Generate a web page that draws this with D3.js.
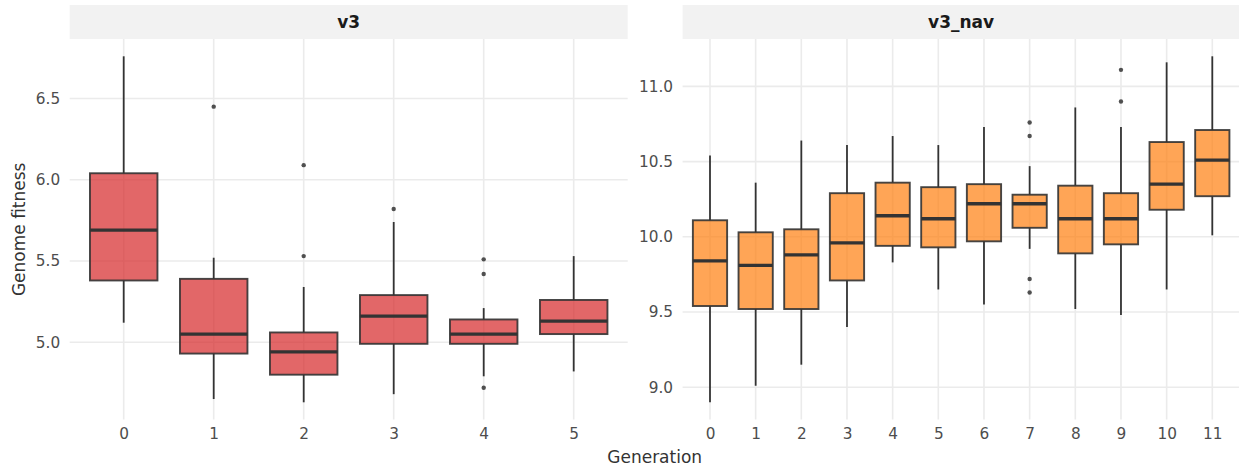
<!DOCTYPE html>
<html>
<head>
<meta charset="utf-8">
<script src="https://cdn.jsdelivr.net/npm/d3@7"></script>
<style>
  html, body { margin: 0; padding: 0; background: #ffffff; }
  svg { display: block; font-family: "DejaVu Sans", sans-serif; }
</style>
</head>
<body>
<svg id="chart" width="1239" height="470"></svg>
<script>
// ---- v3 run: box-plot summaries per generation ----
const v3Generations = ["0", "1", "2", "3", "4", "5"];
const v3Lower    = [5.12, 4.65, 4.63, 4.68, 4.79, 4.82];
const v3Q1       = [5.38, 4.93, 4.80, 4.99, 4.99, 5.05];
const v3Median   = [5.69, 5.05, 4.94, 5.16, 5.05, 5.13];
const v3Q3       = [6.04, 5.39, 5.06, 5.29, 5.14, 5.26];
const v3Upper    = [6.76, 5.52, 5.34, 5.74, 5.21, 5.53];
const v3Outliers = [[], [6.45], [6.09, 5.53], [5.82], [5.51, 5.42, 4.72], []];
const v3Ticks    = [5.0, 5.5, 6.0, 6.5];

// ---- v3_nav run ----
const navGenerations = ["0", "1", "2", "3", "4", "5", "6", "7", "8", "9", "10", "11"];
const navLower    = [8.90, 9.01, 9.15, 9.40, 9.83, 9.65, 9.55, 9.92, 9.52, 9.48, 9.65, 10.01];
const navQ1       = [9.54, 9.52, 9.52, 9.71, 9.94, 9.93, 9.97, 10.06, 9.89, 9.95, 10.18, 10.27];
const navMedian   = [9.84, 9.81, 9.88, 9.96, 10.14, 10.12, 10.22, 10.22, 10.12, 10.12, 10.35, 10.51];
const navQ3       = [10.11, 10.03, 10.05, 10.29, 10.36, 10.33, 10.35, 10.28, 10.34, 10.29, 10.63, 10.71];
const navUpper    = [10.54, 10.36, 10.64, 10.61, 10.67, 10.61, 10.73, 10.47, 10.86, 10.73, 11.16, 11.20];
const navOutliers = [[], [], [], [], [], [], [], [10.76, 10.67, 9.72, 9.63], [], [11.11, 10.90], [], []];
const navTicks    = [9.0, 9.5, 10.0, 10.5, 11.0];

const panelTitles = ["v3", "v3_nav"];
const panelColors = ["#d62728", "#ff7f0e"];
const xTitle = "Generation";
const yTitle = "Genome fitness";

// ---- layout ----
const svg = d3.select("#chart");
const stripTop = 5, stripH = 34;
const plotTop = stripTop + stripH, plotBottom = 419.6;
const panels = [
  { x0: 69.7, x1: 627.7, title: panelTitles[0], color: panelColors[0], gens: v3Generations,
    lo: v3Lower, q1: v3Q1, med: v3Median, q3: v3Q3, hi: v3Upper, out: v3Outliers, ticks: v3Ticks },
  { x0: 682.6, x1: 1239.7, title: panelTitles[1], color: panelColors[1], gens: navGenerations,
    lo: navLower, q1: navQ1, med: navMedian, q3: navQ3, hi: navUpper, out: navOutliers, ticks: navTicks }
];

const gridColor = "#ebebeb";
const inkColor = "#333333";
const tickColor = "#4d4d4d";

panels.forEach(p => {
  const g = svg.append("g");

  // discrete x positions with 0.6-step padding on each side
  const x = d3.scalePoint().domain(p.gens).range([p.x0, p.x1]).padding(0.6);
  const boxW = x.step() * 0.75;

  // free y scale: data extent expanded by 5%
  const allVals = p.lo.concat(p.hi, p.out.flat());
  const [mn, mx] = d3.extent(allVals);
  const pad = (mx - mn) * 0.05;
  const y = d3.scaleLinear().domain([mn - pad, mx + pad]).range([plotBottom, plotTop]);

  // strip
  g.append("rect")
    .attr("x", p.x0).attr("y", stripTop)
    .attr("width", p.x1 - p.x0).attr("height", stripH)
    .attr("fill", "#f2f2f2");
  g.append("text")
    .attr("x", (p.x0 + p.x1) / 2).attr("y", stripTop + stripH / 2)
    .attr("dy", "0.36em")
    .attr("text-anchor", "middle")
    .attr("font-size", "17px").attr("font-weight", "bold")
    .attr("fill", "#1a1a1a")
    .text(p.title);

  // grid lines
  g.append("g").selectAll("line").data(p.ticks).join("line")
    .attr("x1", p.x0).attr("x2", p.x1)
    .attr("y1", d => y(d)).attr("y2", d => y(d))
    .attr("stroke", gridColor).attr("stroke-width", 1.6);
  g.append("g").selectAll("line").data(p.gens).join("line")
    .attr("x1", d => x(d)).attr("x2", d => x(d))
    .attr("y1", plotTop).attr("y2", plotBottom)
    .attr("stroke", gridColor).attr("stroke-width", 1.6);

  // y axis labels
  const yAxis = d3.axisLeft(y).tickValues(p.ticks).tickFormat(d3.format(".1f")).tickSize(0).tickPadding(9.5);
  const ya = g.append("g").attr("transform", `translate(${p.x0},0)`).call(yAxis);
  ya.select(".domain").remove();
  ya.selectAll("text").attr("font-size", "15.3px").attr("fill", tickColor).attr("font-family", "DejaVu Sans, sans-serif");

  // x axis labels
  const xAxis = d3.axisBottom(x).tickSize(0).tickPadding(8.5);
  const xa = g.append("g").attr("transform", `translate(0,${plotBottom})`).call(xAxis);
  xa.select(".domain").remove();
  xa.selectAll("text").attr("font-size", "15.3px").attr("fill", tickColor).attr("font-family", "DejaVu Sans, sans-serif");

  // box plots
  const rows = p.gens.map((gen, i) => ({
    gen, lo: p.lo[i], q1: p.q1[i], med: p.med[i], q3: p.q3[i], hi: p.hi[i], out: p.out[i]
  }));
  const boxes = g.append("g").selectAll("g").data(rows).join("g");

  boxes.append("line")
    .attr("x1", d => x(d.gen)).attr("x2", d => x(d.gen))
    .attr("y1", d => y(d.q3)).attr("y2", d => y(d.hi))
    .attr("stroke", inkColor).attr("stroke-width", 1.8);
  boxes.append("line")
    .attr("x1", d => x(d.gen)).attr("x2", d => x(d.gen))
    .attr("y1", d => y(d.q1)).attr("y2", d => y(d.lo))
    .attr("stroke", inkColor).attr("stroke-width", 1.8);
  boxes.append("rect")
    .attr("x", d => x(d.gen) - boxW / 2).attr("width", boxW)
    .attr("y", d => y(d.q3)).attr("height", d => y(d.q1) - y(d.q3))
    .attr("fill", p.color).attr("fill-opacity", 0.7)
    .attr("stroke", inkColor).attr("stroke-opacity", 0.9).attr("stroke-width", 1.9);
  boxes.append("line")
    .attr("x1", d => x(d.gen) - boxW / 2).attr("x2", d => x(d.gen) + boxW / 2)
    .attr("y1", d => y(d.med)).attr("y2", d => y(d.med))
    .attr("stroke", inkColor).attr("stroke-width", 3.3);
  boxes.selectAll("circle").data(d => d.out.map(v => ({ gen: d.gen, v }))).join("circle")
    .attr("cx", d => x(d.gen)).attr("cy", d => y(d.v))
    .attr("r", 2.2)
    .attr("fill", inkColor).attr("fill-opacity", 0.85);
});

// axis titles
svg.append("text")
  .attr("x", (panels[0].x0 + panels[1].x1) / 2).attr("y", 462.5)
  .attr("text-anchor", "middle")
  .attr("font-size", "17px").attr("fill", "#333333")
  .text(xTitle);
svg.append("text")
  .attr("transform", `translate(25,${(plotTop + plotBottom) / 2}) rotate(-90)`)
  .attr("text-anchor", "middle")
  .attr("font-size", "17px").attr("fill", "#333333")
  .text(yTitle);
</script>
</body>
</html>
